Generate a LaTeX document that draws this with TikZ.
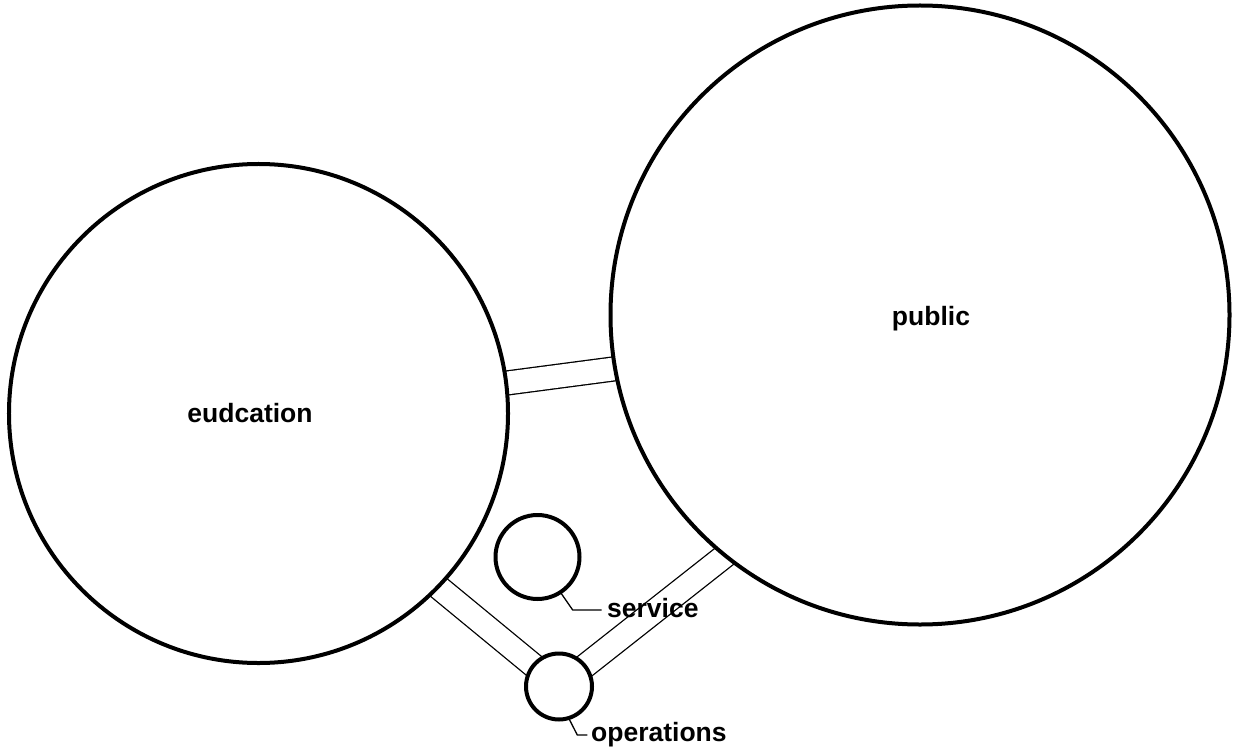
\documentclass[tikz,border=0pt]{standalone}
\usepackage{fontspec}
\setmainfont{Liberation Sans}
\usetikzlibrary{backgrounds}
\begin{document}
\begin{tikzpicture}[x=1bp,y=-1bp,
  ring/.style={circle, draw=black, line width=4bp, fill=white, inner sep=0pt, outer sep=0pt},
  band/.style={draw=black, line width=1.3bp, double=white, double distance=22.7bp},
  leader/.style={draw=black, line width=1.3bp},
  lbl/.style={font=\fontsize{26.5bp}{31bp}\selectfont\bfseries, inner sep=0pt}]
\useasboundingbox (0,0) rectangle (1235,753);

% circles
\node[ring, minimum size=499bp] (edu) at (258.5,413.5) {};
\node[ring, minimum size=619bp] (pub) at (920,315) {};
\node[ring, minimum size=84bp] (svc) at (537.5,557) {};
\node[ring, minimum size=66bp] (ops) at (559,686.5) {};

% labels
\node[lbl] (edutxt) at (250,413) {eudcation};
\node[lbl] (pubtxt) at (931,319) {public};
\node[lbl, anchor=base west] (svctxt) at (607,617) {service};
\node[lbl, anchor=base west] (opstxt) at (591,741.7) {operations};

% double-line links, hidden inside the circles by their white fill
\begin{scope}[on background layer]
  \draw[band, shorten <=-20bp, shorten >=-20bp] (edu.7) -- (pub.190);
  \draw[band, shorten <=-20bp] (edu.-44.3) -- (ops.center);
  \draw[band, shorten >=-20bp] (ops.center) -- (pub.231.9);
\end{scope}

% leader lines to the small-circle labels
\coordinate (svcbend) at (572.7,610);
\coordinate (svcend) at (601.7,610);
\draw[leader] (svc.-57.6) -- (svcbend) -- (svcend);
\coordinate (opsbend) at (577.3,735);
\coordinate (opsend) at (587.3,735);
\draw[leader] (ops.-73) -- (opsbend) -- (opsend);
\end{tikzpicture}
\end{document}
